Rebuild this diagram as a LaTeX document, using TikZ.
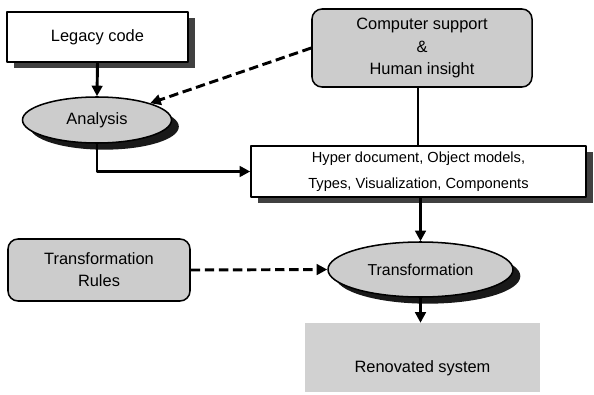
\documentclass[tikz,border=0pt]{standalone}
\usepackage{fontspec}
\setmainfont{Liberation Sans}
\usetikzlibrary{shapes.geometric,shadows,arrows.meta}
\begin{document}
\begin{tikzpicture}[x=0.03cm,y=-0.03cm,line join=round,font=\fontsize{14}{19}\selectfont,>={Triangle[length=9pt,width=9pt]}]
	\tikzset{plainbox/.style={draw,line width=1.3pt,fill=white,inner sep=0pt,align=center,drop shadow={shadow xshift=0.21cm,shadow yshift=-0.18cm,fill=black!75,opacity=1}},
		greybox/.style={draw,line width=1.3pt,rounded corners=0.3cm,fill=black!20,inner sep=0pt,align=center},
		oval/.style={ellipse,draw,line width=1.3pt,fill=black!20,inner sep=0pt,drop shadow={shadow xshift=0.22cm,shadow yshift=-0.2cm,fill=black!90,opacity=1}},
		flow/.style={->,line width=2.5pt},
		hint/.style={->,line width=2.5pt,dash pattern=on 8pt off 4pt}}
	\useasboundingbox (0,0) rectangle (594,394);
	\node[plainbox,minimum width=5.43cm,minimum height=1.5cm] (legacy) at (97.5,37) {Legacy code};
	\node[oval,minimum width=4.47cm,minimum height=1.38cm] (analysis) at (97,120) {Analysis};
	\node[greybox,minimum width=6.6cm,minimum height=2.34cm] (support) at (422,48) {Computer support\\\&\\Human insight};
	\node[plainbox,minimum width=10.05cm,minimum height=1.53cm,font=\fontsize{12.5}{22}\selectfont] (hyper) at (418.5,171.5) {Hyper document, Object models,\\Types, Visualization, Components};
	\node[greybox,minimum width=5.46cm,minimum height=1.86cm] (rules) at (99,270) {Transformation\\Rules};
	\node[oval,minimum width=5.55cm,minimum height=1.65cm,font=\fontsize{13.5}{16}\selectfont] (transf) at (420.5,269.5) {Transformation};
	\node[fill=black!18,minimum width=7.05cm,inner sep=0pt,text height=1.47cm,text depth=0.6cm] (renovated) at (422.5,357.5) {Renovated system};
	\draw[flow] (legacy.south) -- (analysis.north);
	\draw[flow] (analysis.south) |- (hyper.west);
	\draw[line width=1pt] (support.south) ++(-4,0) coordinate (drop) -- (drop |- hyper.north);
	\draw[hint] (support.west) -- (analysis.north east);
	\draw[hint] (rules.east) -- (transf.west);
	\draw[flow] (transf.north |- hyper.south) -- (transf.north);
	\draw[flow] (transf.south) -- (transf.south |- renovated.north);
\end{tikzpicture}
\end{document}
